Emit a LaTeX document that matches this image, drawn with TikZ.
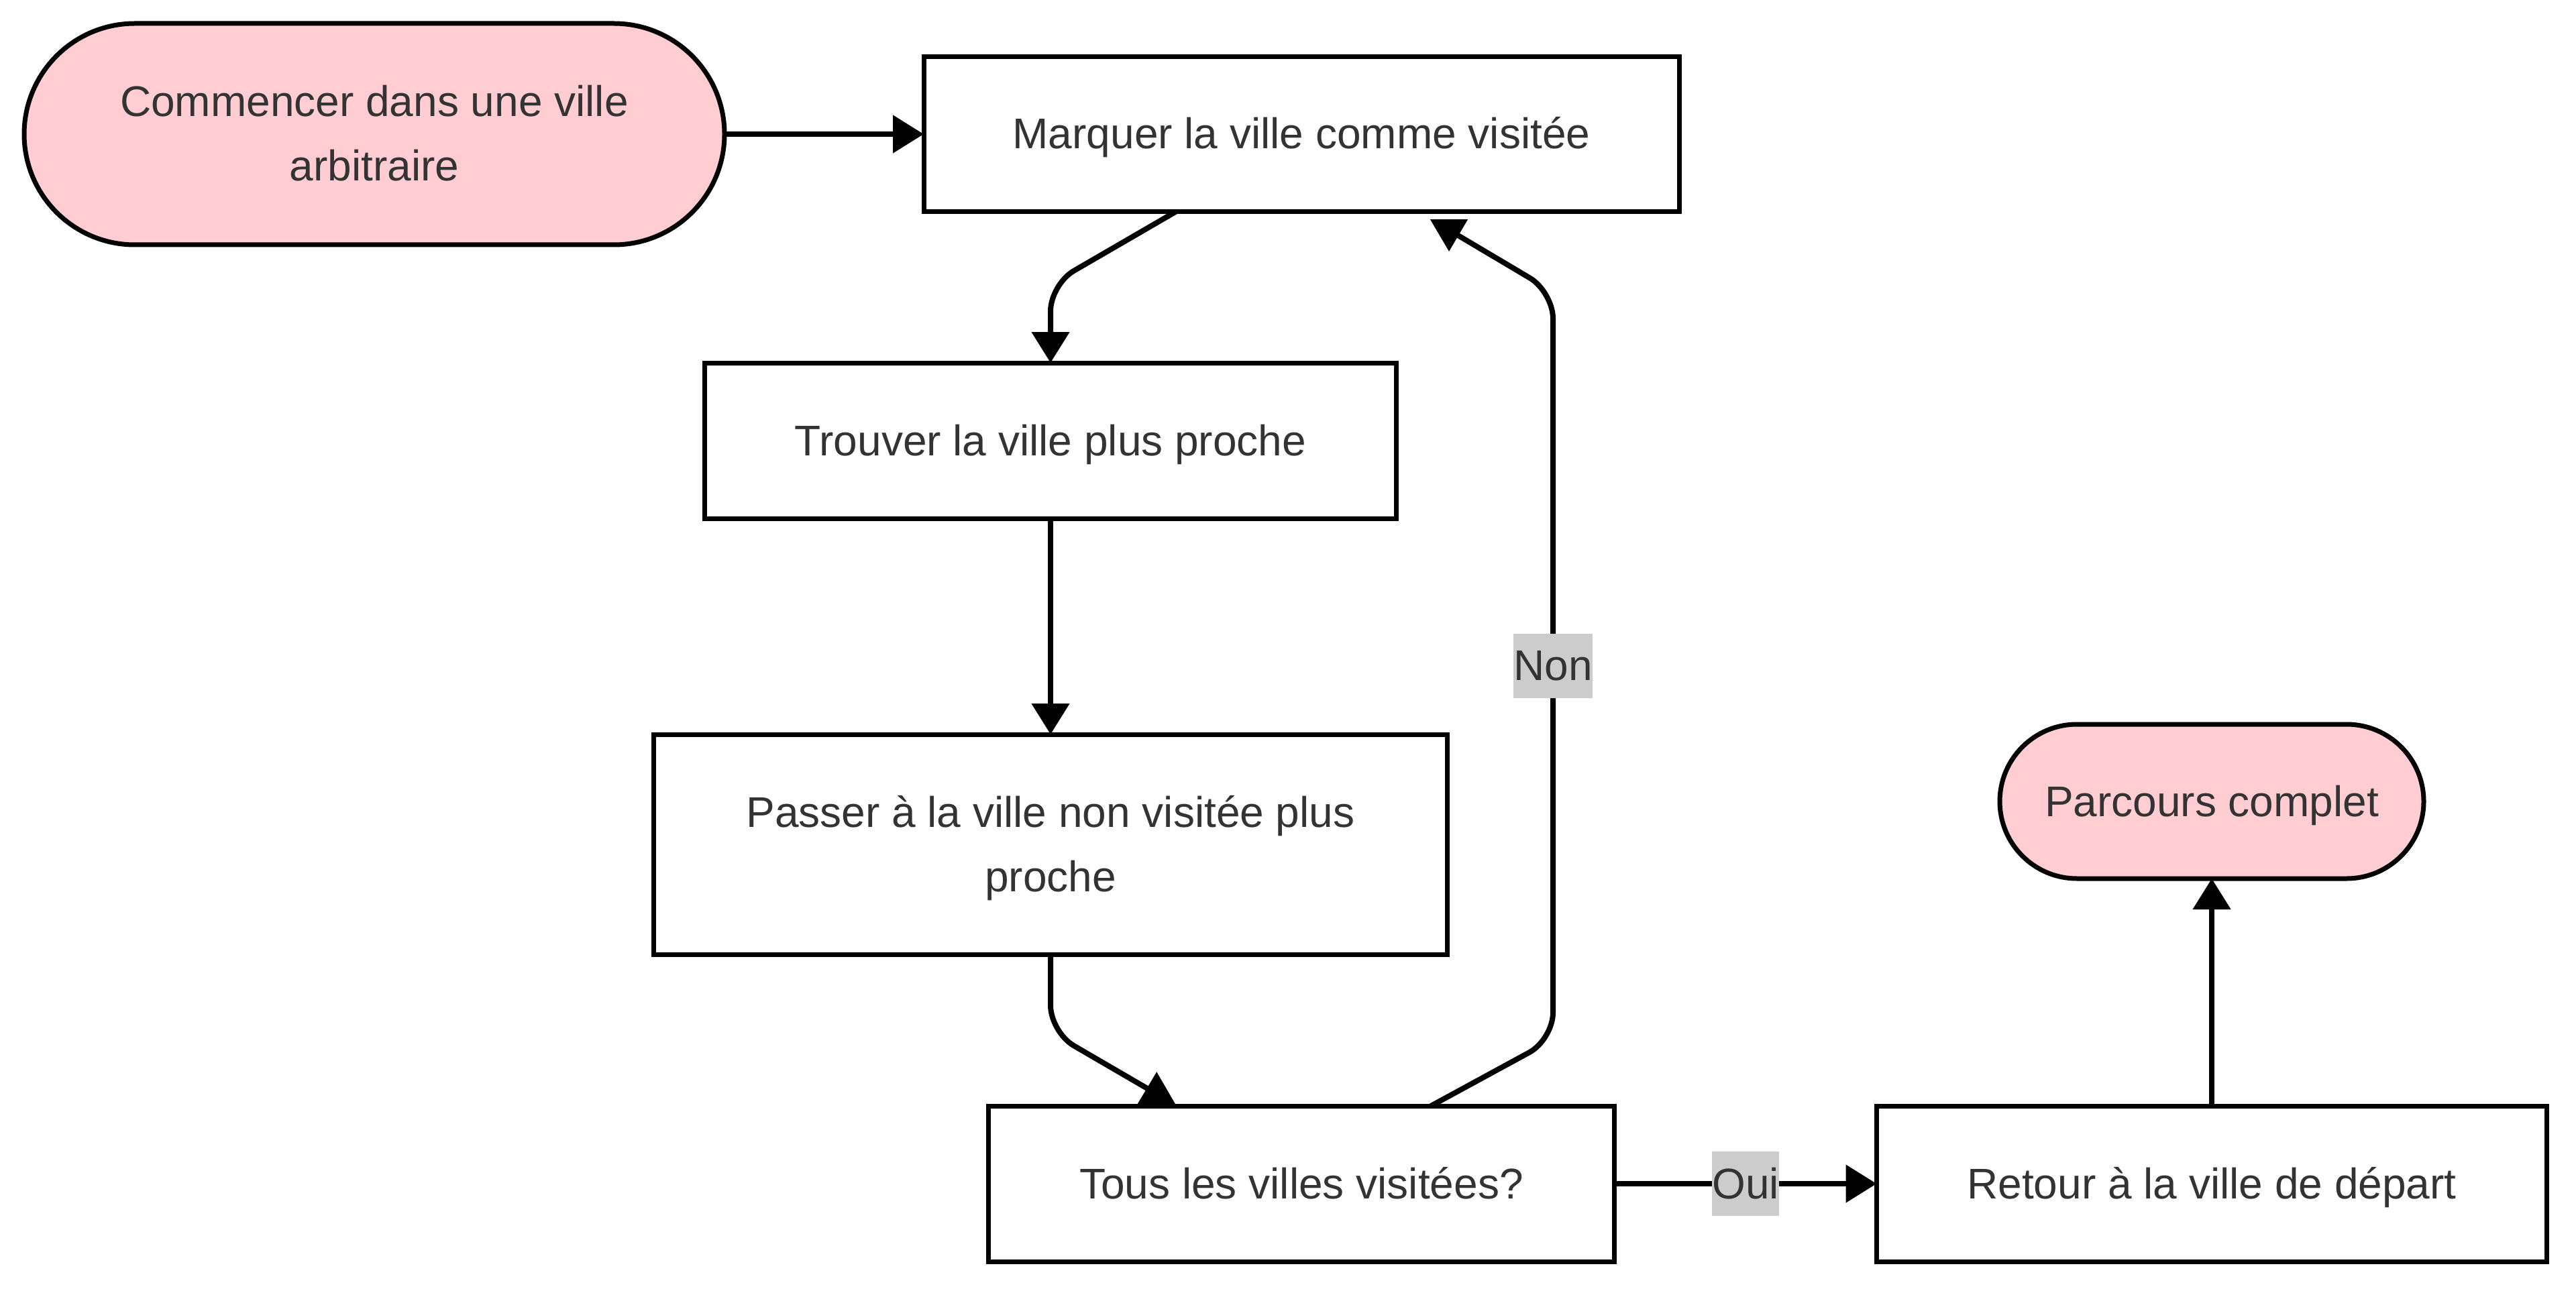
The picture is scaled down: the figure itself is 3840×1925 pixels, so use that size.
\documentclass[tikz,border=0pt]{standalone}
\usepackage{fontspec}
\setmainfont{Liberation Sans}
\usetikzlibrary{arrows.meta}
\definecolor{pinkfill}{RGB}{255,205,210}
\definecolor{txtc}{RGB}{51,51,51}
\definecolor{lblbg}{RGB}{204,204,204}
\newcommand\nstrut{\rule[-6.5pt]{0pt}{24pt}}
\begin{document}
\begin{tikzpicture}[x=0.25pt,y=-0.25pt,
  every node/.style={font=\fontsize{16pt}{24pt}\selectfont, text=txtc, inner sep=0pt, outer sep=0pt,
    execute at begin node=\nstrut, execute at end node=\nstrut},
  proc/.style={draw=black, line width=1.75pt, fill=white, align=center},
  term/.style={proc, fill=pinkfill},
  conn/.style={draw=black, line width=2pt},
  edge/.style={conn, -{Triangle[length=11.5pt,width=13.75pt]}},
  rtip/.style={conn, -{Triangle[length=12pt,width=13.5pt,reversed]}},
  lbl/.style={fill=lblbg, sharp corners, minimum height=23.75pt}]
\useasboundingbox (0,0) rectangle (3840,1925);

\node[term, minimum width=261pt, minimum height=82.5pt, rounded corners=41.25pt] (start) at (558,200) {\nstrut Commencer dans une ville\\arbitraire};
\node[proc, minimum width=281.5pt, minimum height=57.75pt] (marq) at (1940,200) {Marquer la ville comme visitée};
\node[proc, minimum width=257.75pt, minimum height=58pt] (trouv) at (1566,657) {Trouver la ville plus proche};
\node[proc, minimum width=295.75pt, minimum height=82pt] (pass) at (1566,1259) {\nstrut Passer à la ville non visitée plus\\proche};
\node[proc, minimum width=233.25pt, minimum height=58pt] (tous) at (1940,1765) {Tous les villes visitées?};
\node[proc, minimum width=249.75pt, minimum height=58pt] (ret) at (3297,1765) {Retour à la ville de départ};
\node[term, minimum width=158pt, minimum height=57.5pt, rounded corners=28.75pt] (parc) at (3297,1195) {Parcours complet};

\draw[edge] (start.east) -- (start.east -| marq.west);
\draw[edge] ([xshift=94pt]marq.south west) [rounded corners=10pt] -- (1566,424) -- (trouv.north);
\draw[edge] (trouv) -- (pass);
\draw[rtip] (pass.south) [rounded corners=10pt] -- (1566,1539) [sharp corners] -- (1724,1631) -- ([xshift=62.6pt,yshift=0.75pt]tous.north west);
\draw[rtip] ([xshift=164.9pt]tous.north west) [rounded corners=10pt] -- (2315,1550) -- node[lbl]{Non} (2315,435) [sharp corners] -- (2160,343) -- ([xshift=195.75pt,yshift=-2.9pt]marq.south west);
\draw[edge] (tous.east) -- node[lbl]{Oui} (ret.west);
\draw[edge] (ret.north) -- (parc.south);
\end{tikzpicture}
\end{document}
